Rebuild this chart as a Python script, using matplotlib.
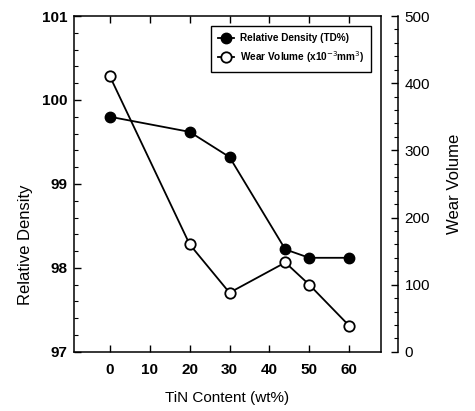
import numpy as np
import matplotlib.pyplot as plt
from matplotlib.ticker import MultipleLocator

plt.rcParams['font.family'] = ['Liberation Sans', 'DejaVu Sans']

tin = [0, 20, 30, 44, 50, 60]
density = [99.8, 99.62, 99.32, 98.22, 98.12, 98.12]
wear = [410, 160, 88, 133, 100, 39]
xticks = [0, 10, 20, 30, 40, 50, 60]

fig = plt.figure(figsize=(4.75, 4.11), dpi=100)
ax = fig.add_axes([0.156, 0.144, 0.646, 0.817])
ax2 = ax.twinx()

l1, = ax.plot(tin, density, color='black', lw=1.3, marker='o', ms=7.5,
              mfc='black', mec='black', label='Relative Density (TD%)', zorder=3)
l2, = ax2.plot(tin, wear, color='black', lw=1.3, marker='o', ms=7.5,
               mfc='white', mec='black', mew=1.3,
               label='Wear Volume (x10$^{-3}$mm$^3$)', zorder=3)

ax.set_xlim(-9, 68)
ax.set_ylim(97, 101)
ax2.set_ylim(0, 500)

ax.set_xticks(xticks)
ax.set_yticks([97, 98, 99, 100, 101])
ax.yaxis.set_minor_locator(MultipleLocator(0.2))
ax2.set_yticks([0, 100, 200, 300, 400, 500])
ax2.yaxis.set_minor_locator(MultipleLocator(20))

ax.tick_params(axis='x', direction='in', top=True, length=5, width=1, labelsize=11, pad=8)
ax.tick_params(axis='y', which='major', direction='in', length=5, width=1, labelsize=11, pad=5)
ax.tick_params(axis='y', which='minor', direction='in', length=3, width=0.8)
ax2.tick_params(axis='y', which='major', direction='in', length=5, width=1, labelsize=11, pad=5)
ax2.tick_params(axis='y', which='minor', direction='in', length=3, width=0.8)
for lab in ax.get_xticklabels() + ax.get_yticklabels() + ax2.get_yticklabels():
    lab.set_fontweight('bold')

ax2.spines['right'].set_position(('outward', 12))
for s in ['top', 'left', 'bottom']:
    ax2.spines[s].set_visible(False)
for s in ax.spines.values():
    s.set_linewidth(1.1)
ax2.spines['right'].set_linewidth(1.1)

ax.set_xlabel('TiN Content (wt%)', fontsize=11, labelpad=10)
ax.set_ylabel('Relative Density', fontsize=12)
ax.yaxis.set_label_coords(-0.134, 0.32)
ax2.set_ylabel('Wear Volume', fontsize=12, rotation=90)
ax2.yaxis.set_label_coords(1.215, 0.5)

leg = ax2.legend(handles=[l1, l2], loc='upper right', bbox_to_anchor=(0.985, 0.985),
                 prop={'weight': 'bold', 'size': 7.2}, fancybox=False,
                 edgecolor='black', framealpha=1, handlelength=1.6,
                 handletextpad=0.6, borderpad=0.7, labelspacing=0.6)
leg.get_frame().set_linewidth(1)

fig.savefig('out.png', dpi=100)
